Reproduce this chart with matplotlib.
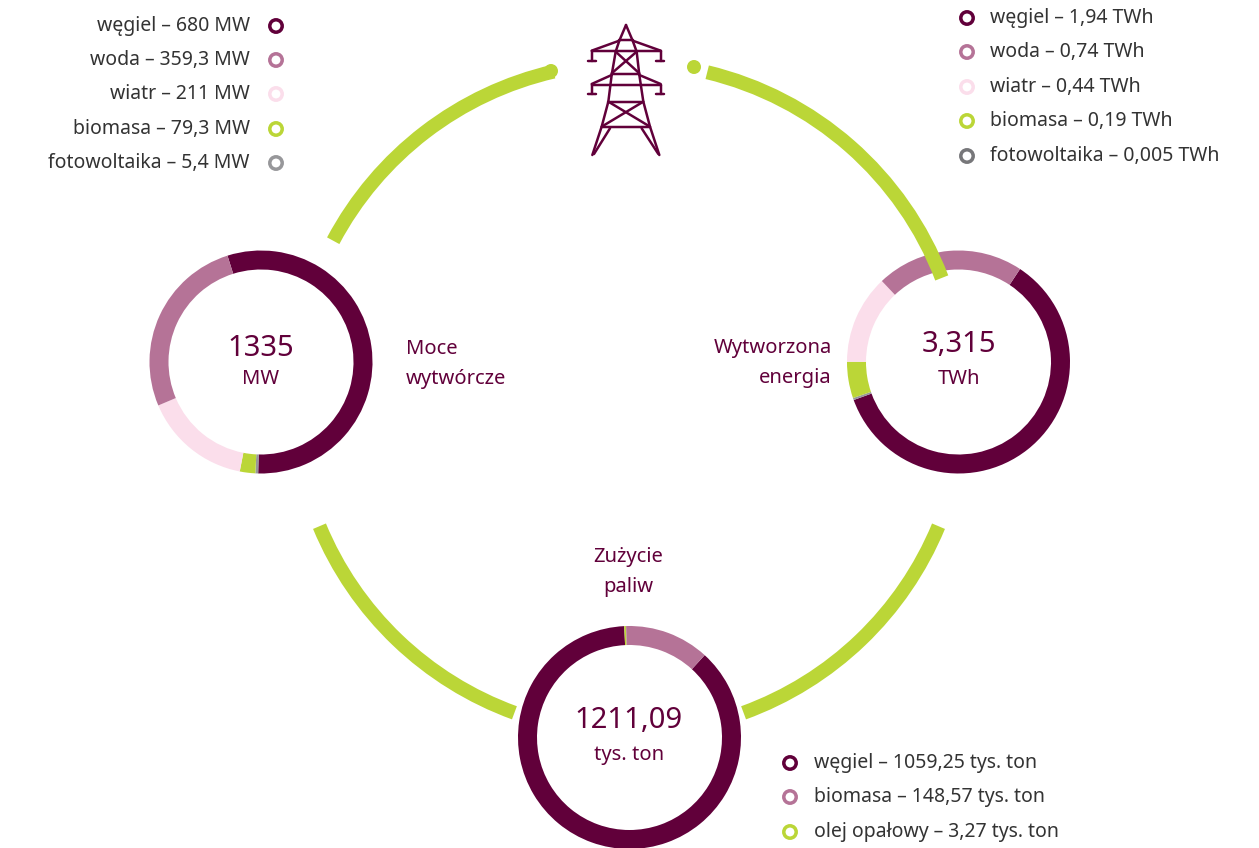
import matplotlib
matplotlib.use("Agg")
import matplotlib.pyplot as plt
from matplotlib.patches import Arc, Circle

W, H = 1259, 848

PURPLE = '#61003a'
ROSE = '#b57397'
PINK = '#fbdeeb'
GREEN = '#bbd637'
GREY = '#97979a'
DARKGREY = '#77777a'
TXT = '#333333'

plt.rcParams['font.family'] = ['Noto Sans', 'DejaVu Sans']

# Slices as they are drawn in the picture (clockwise, starting with coal)
moce_vals = [738, 5.4, 30, 208, 354]
moce_cols = [PURPLE, GREY, GREEN, PINK, ROSE]
energia_vals = [1.996, 0.01, 0.175, 0.428, 0.709]
energia_cols = [PURPLE, GREY, GREEN, PINK, ROSE]
paliwa_vals = [1059.25, 3.27, 148.57]
paliwa_cols = [PURPLE, GREEN, ROSE]

# Legends
moce_labels = ['węgiel – 680 MW', 'woda – 359,3 MW', 'wiatr – 211 MW',
               'biomasa – 79,3 MW', 'fotowoltaika – 5,4 MW']
moce_leg_cols = [PURPLE, ROSE, PINK, GREEN, GREY]
energia_labels = ['węgiel – 1,94 TWh', 'woda – 0,74 TWh', 'wiatr – 0,44 TWh',
                  'biomasa – 0,19 TWh', 'fotowoltaika – 0,005 TWh']
energia_leg_cols = [PURPLE, ROSE, PINK, GREEN, DARKGREY]
paliwa_labels = ['węgiel – 1059,25 tys. ton', 'biomasa – 148,57 tys. ton',
                 'olej opałowy – 3,27 tys. ton']
paliwa_leg_cols = [PURPLE, ROSE, GREEN]

fig = plt.figure(figsize=(W / 100, H / 100), dpi=100)
ax = fig.add_axes([0, 0, 1, 1])


def fy(y):
    # pixel row -> data y
    return H - y


def donut(vals, cols, cx, cy, start):
    ax.pie(vals, colors=cols, center=(cx, fy(cy)), radius=111.5, startangle=start,
           counterclock=False, frame=True, normalize=True,
           wedgeprops={'width': 19, 'linewidth': 0})


donut(moce_vals, moce_cols, 261, 362, 107.5)
donut(energia_vals, energia_cols, 958.5, 362, 56.5)
donut(paliwa_vals, paliwa_cols, 629.5, 737.5, 47.6)

# Big green circle, cut into four arcs
big_c = (629, 398)
big_r = 335
arcs = [(64, 78), (102, 118), (203, 248), (292, 337)]
arcs = [(21, 76.5), (103, 152), (202.5, 250), (290, 337.5)]
for t1, t2 in arcs:
    ax.add_patch(Arc((big_c[0], fy(big_c[1])), 2 * big_r, 2 * big_r, theta1=t1, theta2=t2,
                     color=GREEN, lw=14 * 0.72, capstyle='butt'))
# round ends next to the pylon
for px, py in [(689 + 5, 67), (556 - 5, 71)]:
    ax.add_patch(Circle((px, fy(py)), 7, color=GREEN, lw=0))

# Pylon icon, coordinates from the 3x crop
tower = [
    [(258, 75), (238, 122), (227, 155), (215, 225), (205, 305), (185, 380), (157, 465)],
    [(258, 75), (278, 122), (290, 155), (298, 225), (310, 305), (330, 380), (358, 465)],
    [(238, 120), (278, 120)], [(155, 152), (362, 152)],
    [(155, 152), (238, 122)], [(362, 152), (278, 122)],
    [(155, 152), (155, 182)], [(143, 182), (168, 182)],
    [(362, 152), (362, 182)], [(348, 182), (373, 182)],
    [(227, 155), (298, 220)], [(290, 155), (215, 220)], [(215, 222), (298, 222)],
    [(155, 252), (215, 225)], [(362, 252), (298, 225)], [(155, 255), (362, 255)],
    [(155, 255), (155, 283)], [(143, 283), (168, 283)],
    [(362, 255), (362, 283)], [(348, 283), (373, 283)],
    [(205, 305), (310, 305)], [(205, 305), (330, 380)], [(310, 305), (185, 380)],
    [(185, 380), (330, 380)],
    [(210, 385), (162, 462)], [(305, 385), (355, 462)],
]
for seg in tower:
    ax.plot([540 + p[0] / 3 for p in seg], [fy(p[1] / 3) for p in seg],
            color=PURPLE, lw=2.5 * 0.72, solid_capstyle='round', solid_joinstyle='round')


def legend(labels, cols, mx, tx, ys, ha):
    for lab, col, y in zip(labels, cols, ys):
        ax.add_patch(Circle((mx, fy(y)), 6.2, facecolor='white', edgecolor=col, lw=3.5 * 0.72))
        ax.text(tx, fy(y), lab, ha=ha, va='center', fontsize=14, color=TXT)


legend(moce_labels, moce_leg_cols, 276, 250, [26, 60, 94, 129, 163], 'right')
legend(energia_labels, energia_leg_cols, 967, 990, [18, 52, 87, 121, 156], 'left')
legend(paliwa_labels, paliwa_leg_cols, 790, 814, [763, 797, 832], 'left')


def bold(x, y, s, size, ha='center'):
    ax.text(x, fy(y), s, ha=ha, va='center', fontsize=size, fontweight='bold', color=PURPLE)


bold(261, 348, '1335', 21)
bold(261, 379, 'MW', 14.5)
bold(959, 345, '3,315', 21)
bold(959, 379, 'TWh', 14.5)
bold(629, 721, '1211,09', 21)
bold(629, 755, 'tys. ton', 14.5)
bold(406, 349, 'Moce', 14.5, 'left')
bold(406, 379, 'wytwórcze', 14.5, 'left')
bold(832, 348, 'Wytworzona', 14.5, 'right')
bold(832, 378, 'energia', 14.5, 'right')
bold(628, 557, 'Zużycie', 14.5)
bold(628, 587, 'paliw', 14.5)

ax.set_xlim(0, W)
ax.set_ylim(0, H)
ax.set_aspect('auto')
ax.axis('off')

fig.savefig('out.png', dpi=100)
